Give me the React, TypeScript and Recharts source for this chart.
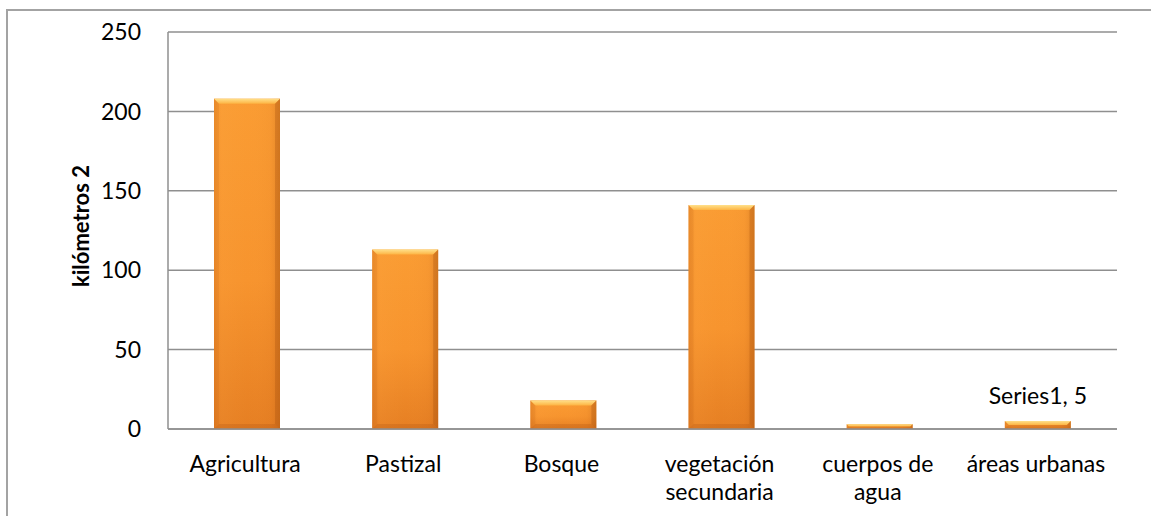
import { Bar, BarChart, CartesianGrid, LabelList, XAxis, YAxis } from "recharts";

const CATEGORIES = ["Agricultura", "Pastizal", "Bosque", "vegetación secundaria", "cuerpos de agua", "áreas urbanas"];
const TICK_LINES = [["Agricultura"], ["Pastizal"], ["Bosque"], ["vegetación", "secundaria"], ["cuerpos de", "agua"], ["áreas urbanas"]];
const VALUES = [208, 113, 18, 141, 3, 5];
const POINT_LABELS = ["", "", "", "", "", "Series1, 5"];
const Y_TICKS = [0, 50, 100, 150, 200, 250];

const FONT = "Lato, 'Open Sans', sans-serif";
const GRID = "#8f8f8f";

const data = CATEGORIES.map((name, i) => ({
  name,
  value: VALUES[i],
  label: POINT_LABELS[i],
}));

function BevelBar(props: any) {
  const { x, y, width: w, height: h } = props;
  if (!h || h <= 0) return null;
  const b = Math.min(5, h / 2);
  return (
    <g>
      <rect x={x} y={y} width={w} height={h} fill="url(#barBody)" />
      <rect x={x} y={y} width={w} height={h} fill="url(#barEdge)" />
      <polygon points={`${x},${y} ${x + w},${y} ${x + w - b},${y + b} ${x + b},${y + b}`} fill="url(#barTop)" />
      <polygon points={`${x},${y} ${x + b},${y + b} ${x + b},${y + h - b} ${x},${y + h}`} fill="rgba(190,95,20,0.15)" />
      <polygon points={`${x + w},${y} ${x + w - b},${y + b} ${x + w - b},${y + h - b} ${x + w},${y + h}`} fill="rgba(160,75,10,0.28)" />
      <polygon points={`${x},${y + h} ${x + b},${y + h - b} ${x + w - b},${y + h - b} ${x + w},${y + h}`} fill="rgba(170,80,15,0.25)" />
    </g>
  );
}

function XTick(props: any) {
  const { x, y, index } = props;
  const lines = TICK_LINES[index] || [];
  return (
    <text x={x - 2} y={y + 43} textAnchor="middle" fontSize={23} fill="#000" fontFamily={FONT}>
      {lines.map((l, i) => (
        <tspan key={l} x={x - 2} dy={i === 0 ? 0 : 28}>
          {l}
        </tspan>
      ))}
    </text>
  );
}

function PointLabel(props: any) {
  const { x, y, width, value } = props;
  if (!value) return null;
  return (
    <text x={x + width / 2} y={y - 17} textAnchor="middle" fontSize={23} fill="#000" fontFamily={FONT}>
      {value}
    </text>
  );
}

export default function App() {
  return (
    <div
      style={{
        position: "absolute",
        left: 0,
        top: 0,
        width: 1151,
        height: 516,
        overflow: "hidden",
        background: "#fff",
        fontFamily: FONT,
      }}
    >
      <div
        style={{
          position: "absolute",
          left: 6,
          top: 9,
          width: 1170,
          height: 530,
          border: "2px solid #a3a3a3",
        }}
      />
      <div style={{ position: "absolute", left: 0, top: 0 }}>
        <BarChart width={1151} height={516} data={data} margin={{ top: 32, right: 34, left: 0, bottom: 0 }}>
          <defs>
            <linearGradient id="barBody" x1="0" y1="0" x2="0" y2="1">
              <stop offset="0%" stopColor="#fa9c33" />
              <stop offset="55%" stopColor="#f7942e" />
              <stop offset="100%" stopColor="#e67f23" />
            </linearGradient>
            <linearGradient id="barEdge" x1="0" y1="0" x2="1" y2="0">
              <stop offset="0%" stopColor="#c7651a" stopOpacity={0.2} />
              <stop offset="12%" stopColor="#ffb050" stopOpacity={0.1} />
              <stop offset="50%" stopColor="#ffb050" stopOpacity={0} />
              <stop offset="85%" stopColor="#c7651a" stopOpacity={0.06} />
              <stop offset="100%" stopColor="#a9540f" stopOpacity={0.3} />
            </linearGradient>
            <linearGradient id="barTop" x1="0" y1="0" x2="0" y2="1">
              <stop offset="0%" stopColor="#ffe08a" />
              <stop offset="100%" stopColor="#fdb443" />
            </linearGradient>
          </defs>
          <CartesianGrid vertical={false} stroke={GRID} strokeWidth={1.5} />
          <XAxis
            dataKey="name"
            interval={0}
            height={87}
            tickSize={0}
            tickMargin={0}
            tickLine={false}
            axisLine={{ stroke: GRID, strokeWidth: 1.5 }}
            tick={<XTick />}
          />
          <YAxis
            width={168}
            domain={[0, 250]}
            ticks={Y_TICKS}
            interval={0}
            tickSize={0}
            tickMargin={27}
            tickLine={false}
            axisLine={{ stroke: GRID, strokeWidth: 1.5 }}
            tick={{ fontSize: 23, fill: "#000", fontFamily: FONT }}
            label={{
              content: () => (
                <text
                  x={89}
                  y={226}
                  transform="rotate(-90 89 226)"
                  textAnchor="middle"
                  fontSize={22}
                  fontWeight="bold"
                  fill="#000"
                  fontFamily={FONT}
                >
                  kilómetros 2
                </text>
              ),
            }}
          />
          <Bar dataKey="value" barSize={66} shape={<BevelBar />} isAnimationActive={false}>
            <LabelList dataKey="label" content={<PointLabel />} />
          </Bar>
        </BarChart>
      </div>
    </div>
  );
}
